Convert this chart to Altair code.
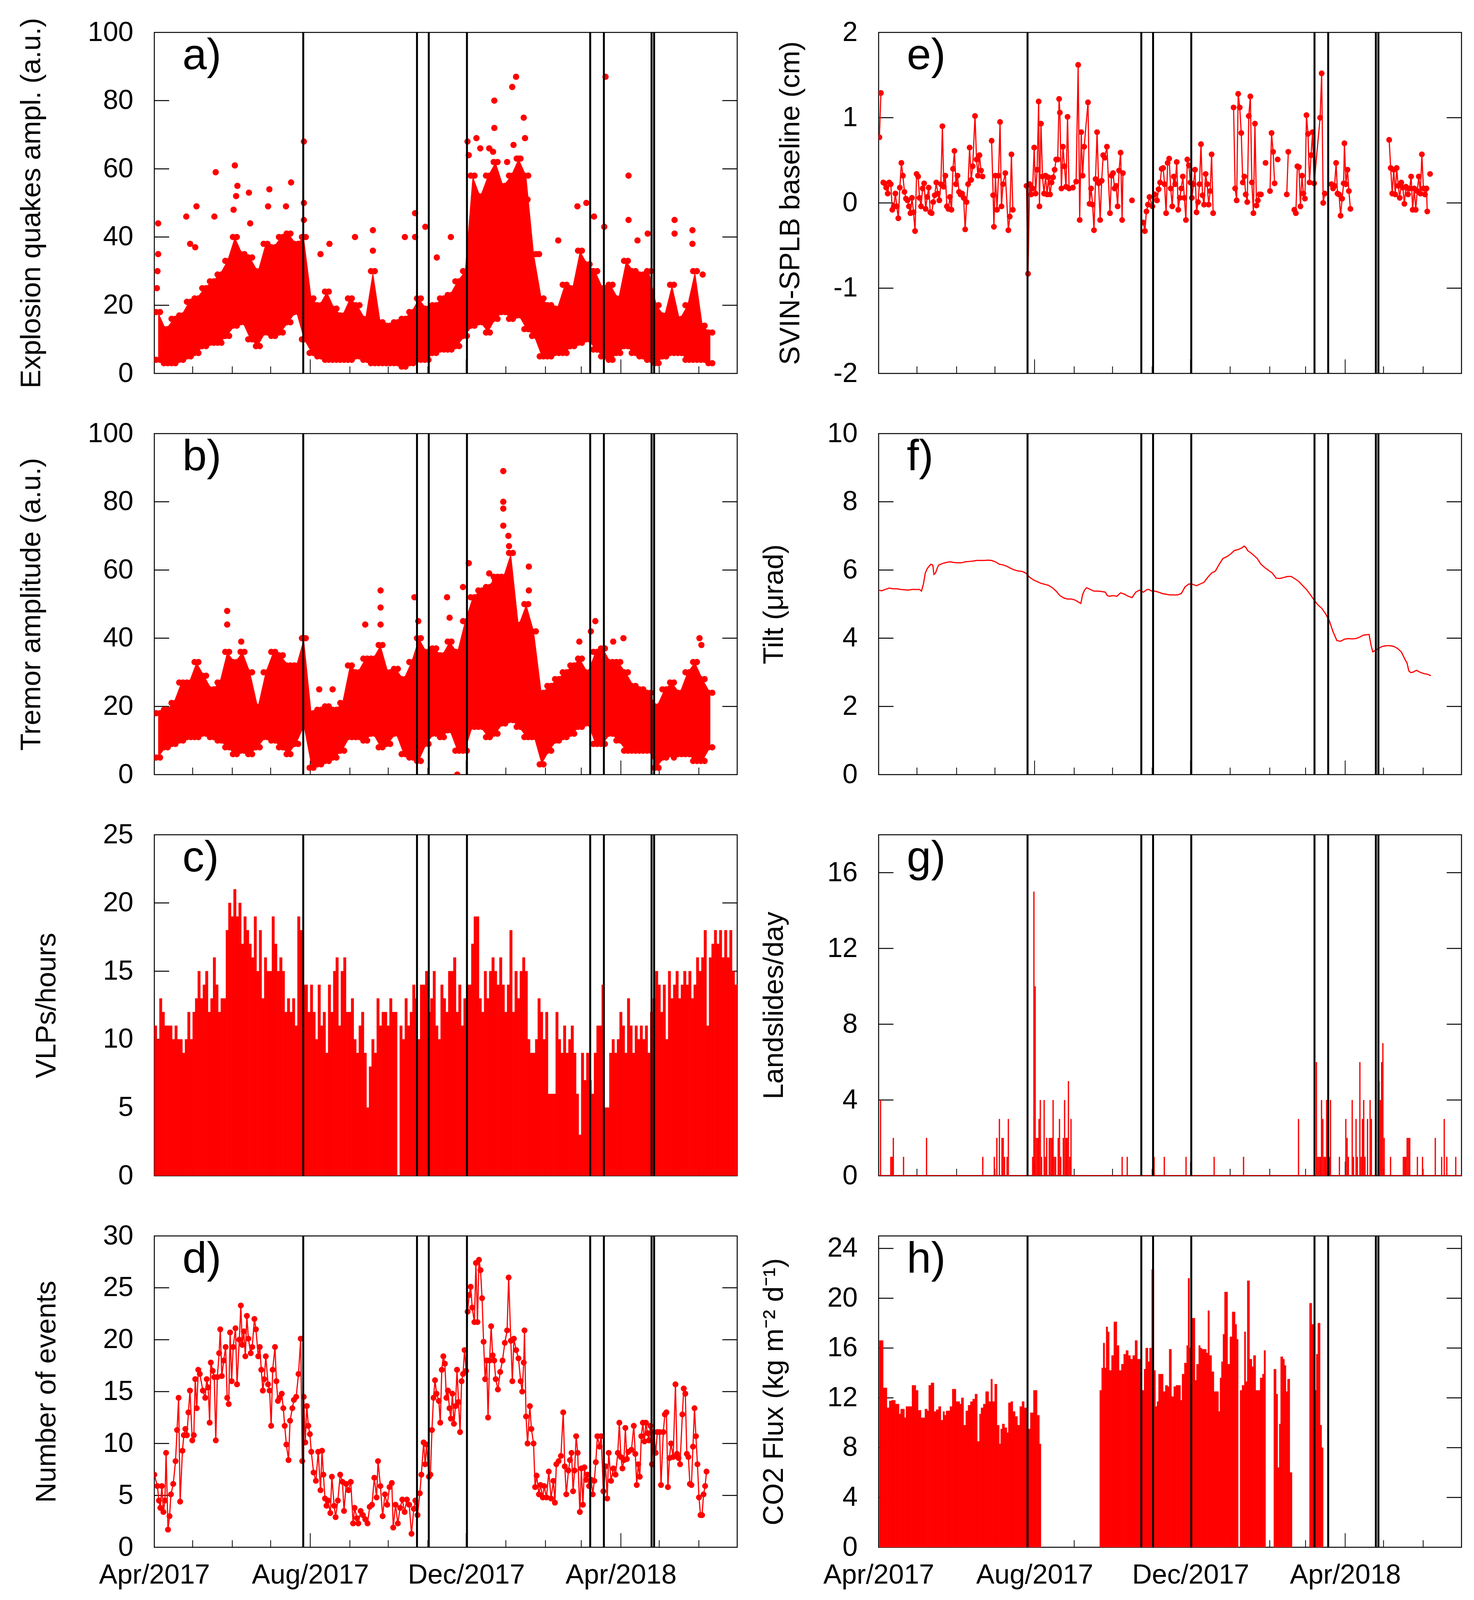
import numpy as np
import pandas as pd
import altair as alt

START = pd.Timestamp("2017-04-01")
END = pd.Timestamp("2018-07-01")
RED = "#ff0000"
FONT = "Liberation Sans"
W = 1492
H_TALL = 873
H_LOW = 797

# vertical event lines
EVENT_DATES = ["2017-07-26 12:00", "2017-10-23 12:00", "2017-11-01 17:00", "2017-12-01 14:00",
               "2018-03-08 00:00", "2018-03-18 17:00", "2018-04-25 00:00", "2018-04-27 00:00"]
MINOR_TICKS = ["2017-05-01", "2017-06-01", "2017-07-01", "2017-09-01", "2017-10-01", "2017-11-01",
               "2018-01-01", "2018-02-01", "2018-03-01", "2018-05-01", "2018-06-01"]
MAJOR_TICKS = ["2017-08-01", "2017-12-01", "2018-04-01"]

# a) explosion quakes amplitude, 6-day envelope of the dot cloud + isolated dots
CLOUD_STEP = 6
A_LO = [4, 3, 3, 4, 5, 6, 8, 9, 9, 11, 14, 15, 10, 8, 12, 11, 12, 15, 18, 10,
        6, 5, 4, 4, 4, 4, 5, 4, 3, 3, 3, 3, 2, 3, 4, 4, 6, 7, 7, 8,
        11, 14, 15, 12, 16, 18, 16, 17, 13, 11, 5, 5, 6, 6, 8, 9, 10, 7, 5, 4,
        6, 8, 6, 5, 4, 3, 5, 6, 6, 4, 4, 4, 3]
A_HI = [18, 13, 16, 17, 21, 22, 25, 27, 29, 33, 40, 35, 34, 30, 38, 37, 40, 41, 38, 40,
        22, 20, 24, 19, 17, 22, 20, 16, 30, 15, 14, 15, 16, 18, 22, 19, 20, 22, 23, 27,
        30, 58, 52, 58, 62, 55, 58, 63, 58, 35, 22, 20, 19, 26, 25, 36, 32, 30, 25, 26,
        22, 33, 30, 29, 30, 20, 17, 26, 16, 20, 30, 14, 12]
A_DOTS = [(2, 25), (2.5, 30), (3, 35), (3, 44), (25, 46), (28, 38), (32, 37), (33, 49), (47, 46),
          (48, 59), (62, 48), (63, 61), (64, 52), (65, 55), (74, 53), (75, 44), (89, 49), (90, 54),
          (103, 49), (107, 56), (117, 68), (117, 50), (117, 45), (130, 35), (137, 38), (157, 40),
          (171, 42), (171, 36), (196, 40), (204, 47), (204, 40), (212, 43), (221, 34), (232, 40),
          (245, 68), (246, 64), (252, 69), (255, 66), (262, 66), (265, 65), (266, 80), (266, 72),
          (270, 55), (276, 62), (280, 84), (281, 67), (283, 87), (285, 63), (289, 75), (290, 69),
          (292, 51), (301, 35), (316, 39), (331, 49), (338, 50), (344, 46), (352, 43), (353, 87),
          (371, 58), (371, 45), (378, 39), (386, 41), (407, 45), (407, 41), (421, 42), (421, 38),
          (429, 29)]

# b) tremor amplitude
B_LO = [5, 8, 9, 10, 11, 11, 12, 11, 10, 8, 6, 7, 6, 8, 11, 10, 8, 6, 9, 14,
        2, 3, 4, 5, 7, 11, 11, 10, 12, 8, 9, 12, 6, 5, 4, 9, 12, 11, 13, 7,
        7, 14, 14, 11, 12, 15, 16, 14, 11, 11, 3, 7, 10, 11, 12, 14, 15, 9, 9, 12,
        10, 7, 7, 7, 7, 2, 5, 6, 6, 6, 4, 4, 8]
B_HI = [18, 19, 21, 27, 27, 33, 29, 25, 27, 36, 33, 36, 30, 20, 30, 36, 35, 32, 32, 40,
        18, 19, 20, 19, 21, 32, 30, 34, 34, 38, 30, 31, 28, 33, 40, 36, 37, 35, 39, 36,
        45, 52, 54, 55, 58, 58, 65, 44, 50, 42, 24, 26, 28, 30, 32, 34, 30, 36, 37, 33,
        33, 30, 26, 25, 24, 20, 25, 27, 24, 30, 33, 28, 24]
B_DOTS = [(57, 48), (57, 44), (68, 39), (116.6, 40), (129, 25), (139.5, 25), (165, 44), (177, 54),
          (177, 49), (177, 44), (203.5, 52), (206.5, 45), (229, 52), (231, 46), (237, 0), (241.5, 55),
          (246, 62), (262, 59), (266.5, 57), (273, 89), (273, 80), (273, 78), (273, 73), (277, 70),
          (277.5, 67), (293, 61), (293, 54), (332.5, 39), (341.5, 42), (345, 45), (359, 39),
          (367, 40), (406.5, 5), (426.5, 40), (428, 38)]

# c) VLPs per hour, 2-day bars
C_STEP = 2
C_VALS = [11, 10, 13, 12, 11, 11, 11, 10, 11, 10, 10, 9, 10, 12, 10, 12, 13, 15, 13, 14,
          15, 12, 13, 16, 14, 12, 13, 13, 18, 20, 19, 21, 19, 20, 17, 19, 18, 17, 16, 19,
          15, 18, 13, 16, 15, 15, 19, 17, 15, 16, 15, 12, 13, 12, 13, 11, 19, 18, 14, 14,
          12, 14, 12, 10, 14, 11, 12, 9, 14, 12, 15, 16, 11, 15, 16, 12, 12, 13, 10, 9,
          11, 12, 9, 5, 8, 10, 9, 13, 11, 12, 12, 11, 13, 12, 12, 0, 11, 10, 13, 11,
          12, 14, 13, 10, 14, 14, 15, 12, 13, 15, 11, 10, 14, 13, 12, 15, 15, 16, 12, 14,
          11, 13, 14, 14, 17, 19, 19, 13, 12, 15, 13, 15, 16, 15, 14, 16, 14, 12, 14, 18,
          12, 15, 13, 15, 16, 15, 10, 9, 9, 10, 13, 12, 10, 12, 6, 6, 6, 12, 10, 9,
          11, 9, 10, 11, 9, 6, 3, 9, 7, 9, 7, 6, 9, 11, 11, 14, 5, 5, 9, 10,
          9, 10, 12, 11, 9, 13, 11, 9, 11, 10, 11, 10, 11, 9, 12, 13, 15, 14, 12, 14,
          10, 15, 13, 14, 15, 13, 14, 15, 14, 15, 13, 14, 16, 15, 16, 18, 11, 16, 17, 18,
          17, 18, 16, 18, 16, 18, 15, 14]

# d) number of events per day
D_POINTS = [(0, 7.0), (2.4, 5.9), (3.6, 4.5), (4.7, 3.8), (5.9, 5.9), (7.1, 3.4), (8.3, 4.5), (9.2, 9.1),
            (10.7, 1.7), (11.9, 3.0), (13, 5.1), (14.8, 6.1), (16.6, 8.3), (17.8, 11.3), (19, 14.4),
            (20.2, 4.4), (22, 9.3), (23.1, 10.8), (24.3, 11.4), (25.5, 10.8), (26.7, 13.0), (27.9, 15.1),
            (29.7, 10.3), (30.9, 10.8), (32, 16.2), (33.2, 13.4), (34.4, 17.1), (35.6, 16.7), (38, 15.1),
            (39.8, 14.4), (41, 16.2), (42.1, 15.4), (43.3, 12.0), (44.2, 17.8), (45.7, 17.0), (46.9, 16.4),
            (48.1, 10.3), (49.3, 16.4), (50.7, 18.7), (51.6, 21.0), (52.8, 16.5), (54.3, 18.0), (55.8, 19.3),
            (57, 14.4), (58.2, 13.8), (59.3, 20.7), (60.5, 16.0), (61.7, 19.3), (63.5, 21.1), (64.7, 15.7),
            (66.5, 20.0), (67.7, 23.3), (68.8, 19.5), (70, 20.8), (71.2, 18.4), (72.4, 22.3), (73.6, 20.1),
            (75.4, 18.7), (76.6, 19.3), (78.3, 22.0), (79.5, 21.0), (81.3, 18.4), (82.5, 19.3), (83.7, 17.1),
            (84.9, 15.1), (86, 16.2), (87.2, 18.4), (89, 15.7), (90.2, 15.1), (91.4, 11.7), (92.6, 17.1),
            (94.4, 19.3), (95.5, 16.0), (96.7, 14.1), (97.9, 14.4), (99.7, 14.8), (100.9, 13.4), (102, 11.7),
            (103.3, 9.9), (105, 8.4), (106.2, 12.2), (108, 13.4), (109.2, 14.2), (111, 14.5), (112.8, 16.7),
            (114.5, 20.1), (115.7, 8.3), (116.9, 14.5), (118.1, 10.1), (119.3, 13.6), (120.5, 11.7),
            (121.7, 10.9), (122.8, 9.2), (124.6, 7.2), (126.4, 6.4), (128.2, 9.2), (130, 5.5), (131.2, 9.3),
            (132.3, 7.0), (133.5, 4.7), (134.7, 4.0), (135.9, 4.5), (137.7, 3.3), (138.9, 6.8), (140.7, 4.0),
            (141.8, 2.9), (143.6, 4.5), (145.4, 7.0), (147.2, 6.3), (148.4, 3.5), (150.1, 6.1), (151.9, 5.5),
            (153.7, 6.3), (155.5, 2.3), (156.7, 3.8), (158.5, 2.8), (159.6, 2.3), (161.4, 3.5), (163.2, 3.1),
            (165, 2.7), (166.8, 2.3), (168.5, 3.9), (170.3, 4.1), (172.1, 6.7), (173.9, 4.8), (175, 8.3),
            (176.9, 5.9), (178.6, 3.0), (180.4, 5.1), (182.2, 4.1), (184, 5.8), (185.8, 6.2), (186.9, 1.9),
            (188.7, 4.1), (190.5, 2.3), (192.3, 3.8), (194, 4.6), (195.8, 3.4), (197.6, 4.6), (199.4, 4.1),
            (201.2, 1.3), (203, 3.7), (204.2, 4.5), (205.9, 3.1), (207.7, 5.2), (208.9, 7.0), (210.7, 10.1),
            (211.9, 8.0), (213, 9.9), (214.8, 6.8), (216, 7.0), (217.2, 11.3), (218.4, 14.4), (219.6, 16.1),
            (220.8, 14.8), (222.6, 14.1), (223.7, 12.0), (224.9, 17.1), (226.1, 18.4), (227.3, 17.7),
            (228.5, 14.4), (229.7, 15.1), (230.9, 13.4), (232, 12.4), (233.2, 14.8), (234.4, 11.9),
            (235.6, 13.6), (236.8, 17.1), (238, 14.0), (239.2, 11.1), (240.4, 16.0), (241.5, 16.7),
            (242.7, 19.0), (243.9, 17.0), (245.1, 22.7), (246.3, 24.3), (247.5, 25.1), (248.7, 23.1),
            (250.4, 21.7), (251.6, 27.4), (252.8, 21.7), (254, 27.7), (255.2, 26.7), (256.4, 24.0),
            (257.6, 19.8), (258.8, 16.2), (260, 18.0), (261.1, 12.5), (262.3, 18.0), (263.5, 21.3),
            (264.7, 18.5), (265.9, 18.0), (267.1, 16.2), (268.8, 15.2), (270.6, 16.9), (272.4, 18.0),
            (274.2, 19.7), (276, 20.9), (277.2, 26.0), (278.9, 19.9), (280.1, 16.0), (281.3, 20.1),
            (283.1, 19.0), (284.9, 18.2), (286.6, 16.0), (287.8, 15.0), (289, 17.8), (289.6, 20.9),
            (290.8, 12.6), (292, 10.0), (293.8, 13.6), (295, 11.4), (296.7, 10.0), (297.9, 5.8), (299.1, 6.9),
            (300.9, 5.1), (302.1, 6.0), (303.9, 4.8), (305, 5.9), (306.8, 4.8), (308.6, 7.3), (310.4, 4.7),
            (312.2, 6.4), (313.4, 4.3), (314.5, 8.0), (316.3, 8.3), (318.1, 8.8), (319.9, 13.0), (321.1, 7.8),
            (322.3, 5.1), (324, 7.4), (325.2, 8.4), (326.4, 9.1), (327.6, 5.4), (328.8, 7.4), (330, 10.7),
            (331.2, 9.1), (332.9, 3.4), (334.1, 7.6), (335.3, 4.1), (336.5, 7.7), (337.7, 6.5), (338.9, 7.0),
            (340.1, 5.9), (341.8, 6.5), (343, 5.1), (344.2, 6.4), (345.4, 8.2), (346.6, 10.7), (348.4, 9.7),
            (349.6, 10.7), (351.3, 5.4), (353.1, 7.8), (354.3, 4.7), (355.5, 9.1), (357.3, 6.4), (359.1, 7.6),
            (360.8, 7.0), (362.6, 9.1), (363.8, 12.0), (365, 8.7), (366.2, 7.6), (367.4, 8.4), (368.5, 11.5),
            (369.7, 8.5), (370.9, 9.2), (373.3, 9.4), (375.1, 11.7), (376.3, 9.0), (377.4, 6.0), (378.6, 8.0),
            (379.8, 6.8), (381, 10.7), (382.2, 12.0), (383.4, 10.2), (384.6, 12.0), (385.8, 11.0),
            (386.9, 10.3), (388.1, 11.7), (389.3, 8.0), (390.5, 11.1), (392.3, 9.1), (393.5, 11.1),
            (395.3, 11.1), (396.4, 6.0), (398.2, 11.1), (399.4, 12.8), (400.6, 13.0), (401.8, 5.8),
            (403, 8.6), (404.2, 10.0), (405.9, 8.7), (407.7, 15.7), (408.9, 9.0), (410.1, 8.6), (411.3, 8.0),
            (413.1, 12.8), (414.2, 15.3), (415.4, 14.8), (416.6, 9.0), (417.8, 8.7), (419, 6.1), (420.2, 6.0),
            (421.4, 9.7), (422.6, 13.4), (423.7, 10.7), (424.9, 8.0), (426.1, 4.8), (427.3, 3.1),
            (428.5, 3.1), (429.7, 5.1), (430.9, 5.9), (432, 7.3)]

# e) SVIN-SPLB baseline; a new line segment starts after each day in E_BREAKS
E_POINTS = [(0.6, 0.77), (1.8, 1.29),
            (3.6, 0.24), (4.7, 0.23), (5.9, 0.18), (7.1, 0.11), (8.3, 0.24), (9.5, 0.22), (10.7, -0.08),
            (11.9, -0.04), (13.1, 0.11), (14.2, -0.04), (15.4, -0.18), (16.6, 0.18), (17.8, 0.47), (19, 0.32),
            (20.2, 0.13), (21.4, 0.05), (22.6, 0.03), (23.7, -0.04), (24.9, -0.12), (26.1, 0.06), (27.3, -0.11),
            (28.5, -0.33), (29.7, 0.34), (30.9, 0.31), (32, 0.06), (33.2, -0.04), (34.4, 0.17), (35.6, 0.23),
            (36.8, -0.07), (38, 0.07), (39.2, 0.18), (40.4, -0.11), (41.5, -0.12), (42.7, 0.01), (43.9, 0.09),
            (45.1, 0.24), (46.3, 0.11), (47.5, 0.03), (48.7, 0.22), (49.9, 0.90), (51, 0.19), (52.2, 0.32),
            (53.4, -0.04), (54.6, -0.07), (55.8, 0.07), (57, -0.08), (58.2, 0.40), (59.3, 0.61), (60.5, 0.22),
            (61.7, 0.32), (62.9, 0.13), (64.1, 0.10), (65.3, 0.11), (66.5, 0.06), (67.7, -0.31), (68.8, 0.01),
            (70, 0.22), (71.2, 0.65), (72.4, 0.27), (73.6, 0.43), (75.4, 1.02), (76.6, 0.51), (77.7, 0.32),
            (78.9, 0.56), (80.1, 0.38), (81.3, 0.31),
            (88.4, 0.73), (89.6, 0.09), (90.2, -0.28), (91.4, 0.32), (92.6, -0.08), (93.8, 0.32), (95, 0.95),
            (96.1, -0.04), (97.3, 0.22), (99.1, 0.35), (101.5, -0.32), (102.6, -0.16), (103.9, 0.57),
            (105, -0.08),
            (115.7, 0.20), (116.9, -0.83), (118.1, 0.22), (119.3, 0.10), (120.5, 0.17), (121.7, 0.65),
            (122.8, 0.11), (124, 0.39), (125.2, 1.19), (125.8, -0.04), (127, 0.93), (128.2, 0.31),
            (129.4, 0.11), (130.6, 0.32), (131.8, 0.10), (132.9, 0.30), (134.1, 0.10), (135.3, 0.24),
            (136.5, 0.30), (137.7, 0.39), (138.9, 0.51), (140.1, 0.51), (141.2, 1.22), (141.8, 1.06),
            (143, 0.17), (144.2, 0.66), (145.4, 0.43), (146.6, 0.19), (147.8, 1.01), (149, 0.17), (152, 0.18),
            (154.5, 0.25), (156.1, 1.62), (157.3, -0.20), (158.5, 0.83), (159.6, 0.32), (160.8, 0.66),
            (163.8, 1.18), (165, -0.01), (166.2, 0.17), (167.4, -0.02), (168.5, -0.32), (169.7, 0.28),
            (170.9, 0.83), (172.1, 0.23), (173.3, -0.20), (174.5, 0.26), (175.7, 0.56), (176.9, 0.53),
            (178.6, 0.66), (181, -0.12), (182.2, 0.32), (183.4, 0.35), (184.6, 0.17), (185.8, 0.20),
            (187, -0.04), (188.1, 0.38), (189.3, 0.59), (190.5, -0.20), (191.1, 0.35),
            (198.2, 0.03),
            (207.1, -0.23), (208.3, -0.33), (209.5, -0.10), (210.7, -0.02), (211.9, 0.07), (214.2, -0.04),
            (216, 0.10), (217.8, 0.03), (219, 0.16), (220.2, 0.24), (221.4, 0.40), (222.6, 0.41),
            (223.7, 0.22), (224.9, -0.12), (226.1, 0.47), (227.3, 0.52), (228.5, 0.17), (229.7, -0.04),
            (230.9, 0.31), (232, 0.22), (233.2, 0.48), (234.4, -0.08), (235.6, 0.06), (236.8, 0.17),
            (238, 0.31), (239.2, 0.06), (240.4, -0.20), (241.5, 0.51), (242.7, 0.44), (243.9, 0.24),
            (245.1, 0.06), (246.3, 0.22), (247.5, 0.39), (248.7, -0.11), (249.9, 0.01), (251, 0.22),
            (252.2, 0.69), (253.4, 0.09), (254.6, -0.02), (255.8, 0.34), (257, 0.22), (258.2, -0.02),
            (259.4, 0.14), (260.5, 0.57), (261.7, -0.12),
            (277.7, 1.12), (278.9, 0.17), (280.1, 0.03), (281.3, 1.28), (282.5, 1.12), (283.7, 0.82),
            (284.9, 0.24), (286.1, 0.31), (287.2, 0.10), (288.4, 0.01), (289.6, 1.02), (290.8, 1.25),
            (292, 0.24), (293.2, -0.12), (294.4, 0.93), (295.6, -0.03), (296.7, 0.03), (297.9, 0.10),
            (299.1, 0.10),
            (302.7, 0.47),
            (306.2, 0.14), (307.4, 0.82), (308.6, 0.60), (309.8, 0.23),
            (312.2, 0.51),
            (319.3, 0.10), (320.5, 0.60),
            (325.2, -0.08), (326.4, -0.12), (327.6, 0.43), (328.8, 0.42), (330, -0.04), (331.2, 0.32),
            (332.3, 0.11), (333.5, 0.05), (334.7, 1.03), (335.9, 0.81), (337.1, 0.24), (338.3, 0.56),
            (339.5, 0.83), (340.7, 0.23), (345.4, 1.0), (346.6, 1.52), (347.8, 0.0), (349, 0.11),
            (354.3, 0.22), (355.5, 0.17), (356.7, 0.20), (357.9, 0.47), (359, 0.11), (360.2, 0.10),
            (361.4, -0.15), (362.6, 0.05), (363.8, 0.23), (364.4, 0.70), (365.6, 0.22), (366.8, 0.39),
            (367.9, 0.14), (369.1, -0.07),
            (399.4, 0.74), (400.6, 0.41), (401.8, 0.11), (403, 0.39), (404.2, 0.10), (405.3, 0.41),
            (406.5, 0.20), (407.7, 0.06), (408.9, 0.24), (410.1, 0.18), (411.3, -0.01), (412.5, 0.19),
            (414.2, 0.10), (415.4, 0.17), (416.6, 0.31), (417.8, -0.08), (419, 0.17), (420.2, -0.08),
            (421.4, 0.14), (422.6, 0.31), (423.8, 0.11), (425, 0.57), (426.2, 0.17), (427.4, 0.10),
            (428.6, 0.17), (429.2, -0.10),
            (431.4, 0.34)]
E_BREAKS = [1.8, 81.3, 105, 191.1, 198.2, 261.7, 299.1, 302.7, 309.8, 312.2, 320.5, 349, 369.1, 429.2]

# f) tilt
F_POINTS = [(0, 5.41), (2.4, 5.39), (5.3, 5.43), (8.3, 5.47), (11.3, 5.45), (14.2, 5.45), (17.2, 5.43),
            (20.2, 5.42), (23.1, 5.41), (26.1, 5.43), (29.1, 5.43), (32, 5.43), (33.5, 5.38), (35, 5.58),
            (36.5, 5.91), (38, 6.04), (39.5, 6.11), (41, 6.17), (42.4, 6.14), (43.3, 5.87), (44.5, 5.91),
            (45.7, 6.04), (46.9, 6.14), (49.9, 6.19), (52.8, 6.22), (55.8, 6.24), (58.8, 6.22), (61.7, 6.21),
            (64.7, 6.21), (67.7, 6.24), (70.6, 6.25), (73.6, 6.26), (76.6, 6.28), (79.5, 6.28), (82.5, 6.28),
            (85.5, 6.29), (88.4, 6.28), (91.4, 6.24), (94.4, 6.17), (97.3, 6.15), (100.3, 6.11), (103.3, 6.05),
            (106.2, 6.00), (109.2, 5.97), (112.2, 5.96), (115.1, 5.91), (118.1, 5.79), (121.1, 5.71),
            (124, 5.66), (127, 5.61), (130, 5.58), (132.9, 5.55), (135.9, 5.48), (138.9, 5.38), (141.8, 5.25),
            (144.8, 5.18), (147.8, 5.15), (150.7, 5.15), (153.7, 5.12), (156.7, 5.05), (158.2, 5.02),
            (159.6, 5.28), (161.1, 5.41), (162.6, 5.48), (165.6, 5.43), (168.5, 5.38), (171.5, 5.38),
            (174.5, 5.37), (177.4, 5.35), (178.9, 5.25), (180.4, 5.23), (183.4, 5.25), (186.4, 5.23),
            (189.3, 5.33), (192.3, 5.29), (195.3, 5.23), (198.2, 5.19), (201.2, 5.35), (204.2, 5.41),
            (207.1, 5.35), (210.1, 5.43), (211.6, 5.43), (213.1, 5.39), (216, 5.38), (219, 5.35), (222, 5.31),
            (224.9, 5.29), (227.9, 5.27), (230.9, 5.27), (233.8, 5.27), (236.8, 5.31), (239.8, 5.51),
            (242.7, 5.59), (245.7, 5.58), (248.7, 5.54), (251.6, 5.59), (254.6, 5.64), (257.6, 5.79),
            (260.5, 5.91), (263.5, 5.97), (266.5, 6.17), (269.4, 6.34), (272.4, 6.39), (275.4, 6.47),
            (278.3, 6.57), (281.3, 6.60), (284.3, 6.65), (285.8, 6.70), (287.2, 6.67), (288.7, 6.57),
            (290.2, 6.53), (293.2, 6.44), (296.1, 6.34), (299.1, 6.17), (302.1, 6.07), (305, 5.99),
            (308, 5.91), (311, 5.76), (313.9, 5.75), (316.9, 5.78), (319.9, 5.81), (322.8, 5.81),
            (325.8, 5.74), (328.8, 5.66), (331.8, 5.54), (334.7, 5.43), (337.7, 5.28), (340.7, 5.12),
            (343.6, 4.98), (346.6, 4.88), (349.6, 4.72), (352.5, 4.52), (355.5, 4.19), (358.5, 3.93),
            (361.4, 3.91), (364.4, 3.97), (367.4, 3.99), (370.3, 3.98), (373.3, 3.99), (376.3, 4.03),
            (379.2, 4.09), (383.7, 4.11), (385.2, 3.80), (386.6, 3.60), (388.1, 3.63), (391.1, 3.70),
            (394.1, 3.76), (397, 3.78), (400, 3.78), (403, 3.76), (405.9, 3.70), (408.9, 3.60), (411.9, 3.37),
            (413.4, 3.27), (414.8, 3.04), (416.3, 2.99), (417.8, 3.00), (420.8, 3.06), (423.7, 3.00),
            (426.7, 2.96), (429.7, 2.94), (432, 2.90)]

# g) landslides per day (days with at least one event)
G_POINTS = [(1, 4), (9, 1), (10, 1), (11, 2), (19, 1), (37, 2), (81, 1), (90, 1), (92, 2), (94, 3), (96, 2),
            (97, 2), (98, 1), (100, 1), (101, 3), (120, 1), (121, 15), (122, 10), (123, 2), (124, 2), (125, 3),
            (126, 4), (127, 1), (129, 4), (130, 1), (131, 2), (133, 2), (134, 2), (135, 2), (136, 4), (137, 1),
            (138, 1), (140, 2), (141, 3), (142, 1), (144, 2), (145, 4), (146, 2), (147, 2), (148, 5), (149, 1),
            (150, 3), (190, 1), (194, 1), (215, 1), (223, 1), (240, 1), (262, 1), (285, 1), (328, 3), (342, 6),
            (343, 1), (344, 1), (345, 1), (346, 4), (347, 3), (348, 1), (349, 1), (350, 4), (351, 3), (352, 1),
            (353, 4), (360, 1), (365, 3), (366, 2), (367, 1), (370, 4), (371, 1), (373, 3), (374, 1), (376, 6),
            (377, 1), (378, 3), (379, 4), (380, 1), (382, 3), (384, 4), (385, 3), (391, 5), (392, 4), (393, 6),
            (394, 7), (395, 2), (400, 1), (410, 1), (411, 1), (412, 1), (413, 2), (414, 2), (415, 2), (421, 1),
            (425, 1), (435, 2), (440, 1), (442, 3), (444, 1), (451, 1)]

# h) CO2 flux: (segment start day, value); a segment lasts until the next start, 0 = no data
H_POINTS = [(0.6, 16.6), (3.6, 12.8), (6.5, 11.2), (8.3, 11.75), (10.1, 11.8), (13.1, 11.5), (16, 10.7),
            (17.2, 11.1), (20.2, 10.4), (21.4, 11.3), (26.1, 13.0), (29.1, 12.6), (30.9, 11.0), (33.2, 10.4),
            (36.2, 11.1), (38, 10.95), (39.2, 13.0), (41, 13.2), (43.3, 10.9), (45.1, 11.05), (46.9, 11.3),
            (48.7, 10.2), (50.4, 10.9), (51.6, 10.6), (52.8, 10.95), (55.8, 11.3), (57.6, 12.7), (60.5, 11.7),
            (63.5, 11.5), (64.7, 12.0), (66.5, 9.8), (68.2, 10.95), (70, 11.4), (71.8, 11.7), (73.6, 11.9),
            (75.4, 12.3), (77.2, 8.5), (78.9, 10.7), (80.1, 11.2), (81.9, 11.5), (83.7, 12.5), (86.1, 11.7),
            (87.8, 13.5), (89, 11.7), (90.8, 13.1), (92.6, 9.8), (94.4, 8.3), (95.5, 9.5), (96.7, 9.9),
            (98.5, 9.6), (100.3, 9.2), (101.5, 11.6), (103.3, 11.7), (105, 10.9), (106.8, 10.5), (108.6, 9.8),
            (110.4, 11.3), (112.2, 11.7), (113.9, 11.2), (115.7, 9.5), (117.5, 9.5), (118.7, 10.8),
            (121.1, 12.6), (124, 10.6), (125.8, 8.3), (127, 0),
            (173, 12.6), (174.5, 14.4), (175.7, 16.4), (176.9, 14.4), (178, 17.7), (179.2, 17.3), (180.4, 14.2),
            (182.2, 15.4), (184, 18.1), (186.4, 16.2), (188.1, 14.2), (189.9, 14.7), (191.7, 15.5),
            (193.5, 15.8), (195.3, 15.4), (197, 15.1), (198.8, 15.4), (200.6, 16.6), (202.4, 15.1),
            (204.2, 15.1), (205.9, 12.6), (207.7, 14.3), (208.9, 16.0), (210.7, 14.9), (211.9, 16.0),
            (213.6, 22.3), (215.4, 14.2), (216.6, 11.3), (217.8, 11.7), (219, 13.9), (220.8, 13.9),
            (222.6, 12.5), (224.3, 13.0), (226.1, 12.9), (227.3, 15.9), (229.1, 12.1), (230.9, 12.9),
            (232.6, 13.0), (234.4, 13.0), (236.2, 11.8), (237.4, 13.9), (239.2, 14.8), (241, 16.2),
            (242.1, 21.6), (243.3, 16.0), (244.5, 18.4), (246.3, 18.4), (247.5, 13.4), (248.7, 14.7),
            (250.4, 16.2), (251.6, 16.0), (252.8, 15.9), (254.6, 15.9), (256.4, 15.6), (257.6, 19.0),
            (258.8, 15.4), (260.5, 14.1), (262.3, 12.5), (264.1, 12.5), (265.9, 10.9), (267.1, 13.6),
            (268.2, 14.9), (269.4, 17.1), (270.6, 20.5), (271.8, 20.5), (273, 14.7), (274.8, 16.9),
            (276.6, 18.9), (277.7, 18.9), (278.9, 17.9), (280.1, 16.7), (281.3, 0),
            (282.8, 12.6), (284.3, 13.0), (286.1, 17.3), (287.2, 13.3), (288.4, 21.4), (290.2, 15.1),
            (292, 14.5), (293.2, 15.4), (295, 12.6), (296.7, 12.6), (298.5, 13.6), (300.3, 13.9),
            (301.5, 15.8), (302.7, 0),
            (309.2, 14.3), (311, 12.3), (312.2, 6.4), (313.4, 9.9), (314.5, 15.3), (316.3, 15.1),
            (317.5, 14.6), (318.7, 12.5), (319.9, 13.5), (321.7, 6.0), (323.4, 0),
            (337.1, 19.6), (338.9, 17.9), (340.1, 17.9), (341.2, 12.6), (342.4, 15.5), (343.6, 18.0),
            (345.4, 9.8), (346.6, 8.0), (347.8, 0)]


def to_time(days):
    return START + pd.to_timedelta(np.asarray(days, dtype=float), unit="D")


def pairs_df(points):
    days, vals = zip(*points)
    return pd.DataFrame({"t": to_time(days), "v": vals, "day": days})


xscale = alt.Scale(domain=[alt.DateTime(year=2017, month=4, date=1), alt.DateTime(year=2018, month=7, date=1)])
bottom_axis = alt.Axis(
    values=[alt.DateTime(year=2017, month=4, date=1), alt.DateTime(year=2017, month=8, date=1),
            alt.DateTime(year=2017, month=12, date=1), alt.DateTime(year=2018, month=4, date=1)],
    format="%b/%Y", title=None, labelFont=FONT, labelFontSize=70, labelColor="black",
    labelPadding=37, labelFlush=False, labelOverlap=False, labelLimit=0,
    ticks=False, domain=False, grid=False,
)


def panel(letter, title, title_x, ydom, yvals, yticks, height, data_layers, bottom=False, label_expr=None):
    xaxis = bottom_axis if bottom else None
    yargs = dict(values=yvals, title=title, titleX=title_x, titleY=height / 2, titleBaseline="middle",
                 titleFont=FONT, titleFontSize=72, titleFontWeight="normal", titleColor="black",
                 titleLimit=0, labelFont=FONT, labelFontSize=70, labelColor="black", labelPadding=54,
                 labelLimit=0, ticks=False, domain=False, grid=False)
    if label_expr:
        yargs["labelExpr"] = label_expr
    yaxis = alt.Axis(**yargs)
    yscale = alt.Scale(domain=ydom, nice=False, zero=False)

    def X(field="t"):
        return alt.X(f"{field}:T", scale=xscale, axis=xaxis)

    def Y(field="v"):
        return alt.Y(f"{field}:Q", scale=yscale, axis=yaxis)

    ytick_df = pd.DataFrame({"v": yticks})
    left_ticks = alt.Chart(ytick_df).mark_rule(color="black", strokeWidth=2.5).encode(
        y=Y(), x=alt.value(0), x2=alt.value(38))
    right_ticks = alt.Chart(ytick_df).mark_rule(color="black", strokeWidth=2.5).encode(
        y=Y(), x=alt.value(W - 38), x2=alt.value(W))
    minor = alt.Chart(pd.DataFrame({"t": pd.to_datetime(MINOR_TICKS)})).mark_rule(
        color="black", strokeWidth=2).encode(x=X(), y=alt.value(height), y2=alt.value(height - 18))
    major = alt.Chart(pd.DataFrame({"t": pd.to_datetime(MAJOR_TICKS)})).mark_rule(
        color="black", strokeWidth=2).encode(x=X(), y=alt.value(height), y2=alt.value(height - 36))

    layers = [left_ticks, right_ticks, minor, major]
    layers += [build(X, Y) for build in data_layers]

    events = alt.Chart(pd.DataFrame({"t": pd.to_datetime(EVENT_DATES)})).mark_rule(
        color="black", strokeWidth=5).encode(x=X())
    label = alt.Chart(pd.DataFrame({"lab": [letter]})).mark_text(
        align="left", baseline="alphabetic", font=FONT, fontSize=112, color="black"
    ).encode(x=alt.value(72), y=alt.value(94), text="lab:N")
    layers += [events, label]
    return alt.layer(*layers).properties(width=W, height=height)


def cloud_layers(lo, hi, dots):
    # dense hourly cloud drawn as a band between the low and high envelope, with dots on its edges
    k = np.arange(len(lo))
    centre = k * CLOUD_STEP + CLOUD_STEP / 2
    band = pd.DataFrame({"t": to_time(centre), "v": lo, "v2": hi})
    edges = pd.DataFrame({"t": to_time(np.concatenate([centre - 1.5, centre + 1.5, centre - 1.5, centre + 1.5])),
                          "v": list(lo) + list(lo) + list(hi) + list(hi)})
    dots_df = pairs_df(dots)

    def b_band(X, Y):
        return alt.Chart(band).mark_area(color=RED, opacity=1, clip=True).encode(
            x=X(), y=Y(), y2="v2:Q")

    def b_edges(X, Y):
        return alt.Chart(edges).mark_circle(color=RED, size=260, opacity=1, clip=True).encode(x=X(), y=Y())

    def b_dots(X, Y):
        return alt.Chart(dots_df).mark_circle(color=RED, size=260, opacity=1, clip=True).encode(x=X(), y=Y())

    return [b_band, b_edges, b_dots]


# c bars
kc = np.arange(len(C_VALS))
c_df = pd.DataFrame({"t": to_time(kc * C_STEP), "t2": to_time(kc * C_STEP + C_STEP), "v": C_VALS})
c_df = c_df[c_df["v"] > 0]


def c_bars(X, Y):
    return alt.Chart(c_df).mark_rect(color=RED, stroke=RED, strokeWidth=0.8, clip=True).encode(
        x=X(), x2="t2:T", y=Y(), y2=alt.datum(0))


d_df = pairs_df(D_POINTS)


def d_line(X, Y):
    return alt.Chart(d_df).mark_line(color=RED, strokeWidth=3, clip=True).encode(x=X(), y=Y())


def d_dots(X, Y):
    return alt.Chart(d_df).mark_circle(color=RED, size=230, opacity=1, clip=True).encode(x=X(), y=Y())


e_df = pairs_df(E_POINTS)
e_df["seg"] = np.searchsorted(np.array(E_BREAKS), e_df["day"].to_numpy(), side="left")


def e_line(X, Y):
    return alt.Chart(e_df).mark_line(color=RED, strokeWidth=3, clip=True).encode(
        x=X(), y=Y(), detail="seg:N")


def e_dots(X, Y):
    return alt.Chart(e_df).mark_circle(color=RED, size=220, opacity=1, clip=True).encode(x=X(), y=Y())


f_df = pairs_df(F_POINTS)


def f_line(X, Y):
    return alt.Chart(f_df).mark_line(color=RED, strokeWidth=3, clip=True).encode(x=X(), y=Y())


g_days, g_vals = zip(*G_POINTS)
g_df = pd.DataFrame({"t": to_time(g_days), "t2": to_time(np.array(g_days) + 1), "v": g_vals})
g_base = pd.DataFrame({"t": [START], "t2": [END], "v": [0]})


def g_baseline(X, Y):
    return alt.Chart(g_base).mark_rule(color=RED, strokeWidth=4, clip=True).encode(x=X(), x2="t2:T", y=Y())


def g_bars(X, Y):
    return alt.Chart(g_df).mark_rect(color=RED, clip=True).encode(
        x=X(), x2="t2:T", y=Y(), y2=alt.datum(0))


h_days, h_vals = zip(*H_POINTS)
h_df = pd.DataFrame({"t": to_time(h_days[:-1]), "t2": to_time(h_days[1:]), "v": h_vals[:-1]})
h_df = h_df[h_df["v"] > 0]


def h_bars(X, Y):
    return alt.Chart(h_df).mark_rect(color=RED, stroke=RED, strokeWidth=0.8, clip=True).encode(
        x=X(), x2="t2:T", y=Y(), y2=alt.datum(0))


pa = panel("a)", "Explosion quakes ampl. (a.u.)", -315, [0, 100], [0, 20, 40, 60, 80, 100],
           [20, 40, 60, 80], H_TALL, cloud_layers(A_LO, A_HI, A_DOTS))
pb = panel("b)", "Tremor amplitude (a.u.)", -315, [0, 100], [0, 20, 40, 60, 80, 100],
           [20, 40, 60, 80], H_TALL, cloud_layers(B_LO, B_HI, B_DOTS))
pc = panel("c)", "VLPs/hours", -276, [0, 25], [0, 5, 10, 15, 20, 25],
           [5, 10, 15, 20], H_TALL, [c_bars])
pd_ = panel("d)", "Number of events", -276, [0, 30], [0, 5, 10, 15, 20, 25, 30],
            [5, 10, 15, 20, 25], H_LOW, [d_line, d_dots], bottom=True)
pe = panel("e)", "SVIN-SPLB baseline (cm)", -226, [-2, 2], [-2, -1, 0, 1, 2],
           [-1, 0, 1], H_TALL, [e_line, e_dots], label_expr="'' + datum.value")
pf = panel("f)", "Tilt (μrad)", -268, [0, 10], [0, 2, 4, 6, 8, 10],
           [2, 4, 6, 8], H_TALL, [f_line])
pg = panel("g)", "Landslides/day", -268, [0, 18], [0, 4, 8, 12, 16],
           [4, 8, 12, 16], H_TALL, [g_baseline, g_bars])
ph = panel("h)", "CO2 Flux (kg m⁻² d⁻¹)", -268, [0, 25], [0, 4, 8, 12, 16, 20, 24],
           [4, 8, 12, 16, 20, 24], H_LOW, [h_bars], bottom=True)

chart = alt.concat(
    pa, pe, pb, pf, pc, pg, pd_, ph,
    columns=2,
    spacing={"row": 154, "column": 362},
    bounds="flush",
).properties(
    padding={"left": 34, "top": 36, "right": 10, "bottom": 40},
).configure_view(stroke="black", strokeWidth=2.5)

chart.save("out.html", embed_options={"renderer": "svg", "actions": False})
